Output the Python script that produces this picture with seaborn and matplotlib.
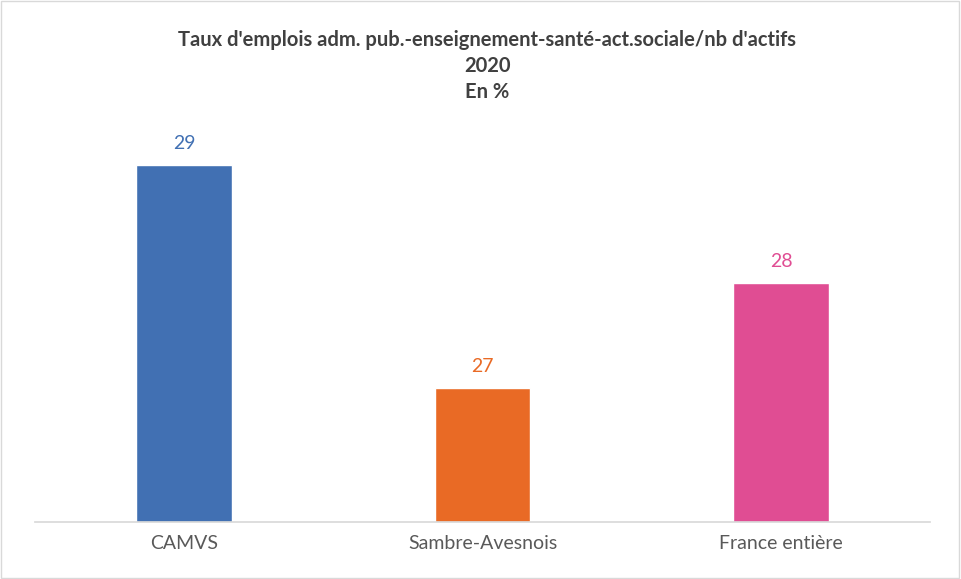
import matplotlib
matplotlib.use("Agg")
import matplotlib.pyplot as plt
import seaborn as sns
import pandas as pd
from matplotlib.patches import Rectangle

categories = ["CAMVS", "Sambre-Avesnois", "France entière"]
values = [29.07, 26.84, 27.89]
labels = ["29", "27", "28"]
colors = ["#4170B3", "#E96A25", "#E04D93"]

sns.set_theme(style="white")
plt.rcParams['font.family'] = ['Lato', 'DejaVu Sans']

fig = plt.figure(figsize=(9.61, 5.79), dpi=100)
ax = fig.add_axes([0.0364, 0.0984, 0.9316, 0.777])
df = pd.DataFrame({"cat": categories, "val": values})
sns.barplot(data=df, x="cat", y="val", hue="cat", palette=colors, width=0.32,
            legend=False, ax=ax, saturation=1)
ax.set_ylim(25.5, 30.0)
ax.set_xlim(-0.5, 2.5)
for i, (v, l, c) in enumerate(zip(values, labels, colors)):
    ax.text(i, v + 0.13, l, ha="center", va="bottom", color=c, fontsize=14)
ax.set_xlabel("")
ax.set_ylabel("")
ax.set_yticks([])
ax.tick_params(axis="x", labelsize=14, colors="#595959", length=0, pad=9)
for s in ["top", "right", "left"]:
    ax.spines[s].set_visible(False)
ax.spines["bottom"].set_color("#D9D9D9")
for y, t in [(0.931, "Taux d'emplois adm. pub.-enseignement-santé-act.sociale/nb d'actifs"),
             (0.886, "2020"), (0.841, "En %")]:
    fig.text(0.507, y, t, ha="center", va="center", fontsize=14.5, fontweight="bold",
             color="#404040")
fig.patches.append(Rectangle((0.001, 0.002), 0.997, 0.996, transform=fig.transFigure,
                             fill=False, edgecolor="#D9D9D9", lw=1))
fig.savefig("out.png", dpi=100)
